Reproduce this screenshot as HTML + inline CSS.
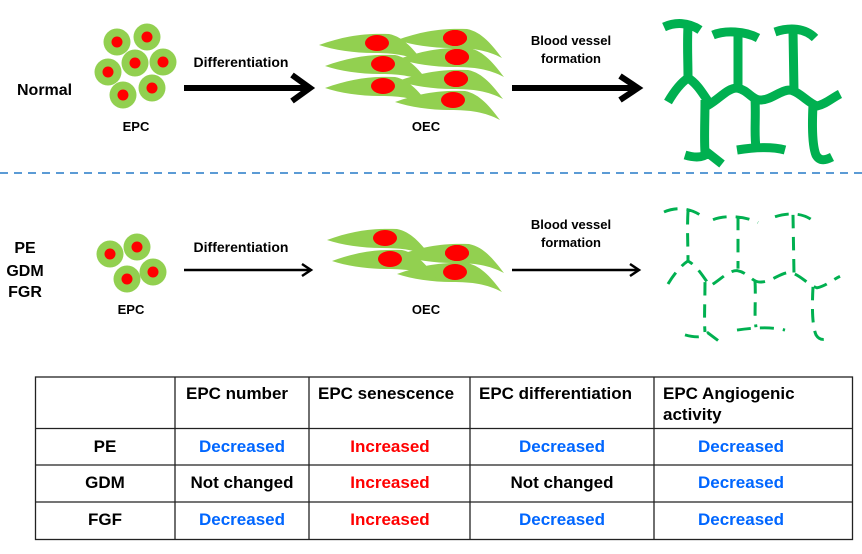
<!DOCTYPE html>
<html><head><meta charset="utf-8"><style>
body{margin:0;background:#fff}
svg{display:block}
text{font-family:"Liberation Sans",Arial,sans-serif;font-weight:bold}
</style></head><body>
<svg width="862" height="554" viewBox="0 0 862 554" xmlns="http://www.w3.org/2000/svg">
<defs>
<g id="oec"><path d="M0,0 C25,-9 45,-12 70,-11 C85,-8 95,5 105,18 C90,10 75,8 55,8 C35,8 15,5 0,0Z" fill="#92d050"/><ellipse cx="58" cy="-2" rx="12" ry="8" fill="#ff0000"/></g>
<g id="epc"><circle r="13.5" fill="#92d050"/><circle r="5.5" fill="#ff0000"/></g>
<g id="net">
<path d="M664,27 C675,22 688,22 700,30 M688,26 C687,45 688,60 688,78 M713,35 C725,30 745,31 758,38 M738,32 L738,86 M775,32 C790,27 805,28 815,38 M793,30 L794,92 M668,102 C675,90 682,82 688,78 C698,84 704,96 710,104 C720,98 728,88 737,88 C748,90 752,100 760,100 C772,100 780,90 790,90 C800,92 808,103 817,106 C826,104 832,98 840,94 M705,100 C705,120 704,140 705,152 M685,155 C695,158 703,158 708,153 L722,164 M755,98 C756,120 754,135 756,147 M737,150 C750,148 770,146 785,150 M813,105 C812,125 812,145 816,155 C820,162 826,160 832,157" fill="none" stroke="#00b050" stroke-linecap="butt"/>
</g>
</defs>
<text x="17" y="95" font-size="16">Normal</text>
<use href="#epc" x="117" y="42"/><use href="#epc" x="147" y="37"/><use href="#epc" x="108" y="72"/><use href="#epc" x="135" y="63"/><use href="#epc" x="163" y="62"/><use href="#epc" x="123" y="95"/><use href="#epc" x="152" y="88"/>
<text x="136" y="131" font-size="13" text-anchor="middle">EPC</text>
<text x="241" y="67" font-size="14" text-anchor="middle">Differentiation</text>
<path d="M184,88 H308" stroke="#000" stroke-width="6"/>
<path d="M292,75 L310,88 L292,101" fill="none" stroke="#000" stroke-width="6"/>
<use href="#oec" x="397" y="40"/><use href="#oec" x="399" y="59"/><use href="#oec" x="398" y="81"/><use href="#oec" x="395" y="102"/>
<use href="#oec" x="319" y="45"/><use href="#oec" x="325" y="66"/><use href="#oec" x="325" y="88"/>
<ellipse cx="455" cy="38" rx="12" ry="8" fill="#f00"/><ellipse cx="457" cy="57" rx="12" ry="8" fill="#f00"/><ellipse cx="456" cy="79" rx="12" ry="8" fill="#f00"/>
<text x="426" y="131" font-size="13" text-anchor="middle">OEC</text>
<text x="571" y="45" font-size="13" text-anchor="middle">Blood vessel</text>
<text x="571" y="63" font-size="13" text-anchor="middle">formation</text>
<path d="M512,88 H636" stroke="#000" stroke-width="6"/>
<path d="M620,76 L638,88 L620,100" fill="none" stroke="#000" stroke-width="6"/>
<use href="#net" stroke-width="9"/>
<path d="M0,173 H862" stroke="#5b9bd5" stroke-width="2" stroke-dasharray="8,6"/>
<text x="25" y="253" font-size="16" text-anchor="middle">PE</text>
<text x="25" y="276" font-size="16" text-anchor="middle">GDM</text>
<text x="25" y="297" font-size="16" text-anchor="middle">FGR</text>
<use href="#epc" x="110" y="254"/><use href="#epc" x="137" y="247"/><use href="#epc" x="127" y="279"/><use href="#epc" x="153" y="272"/>
<text x="131" y="314" font-size="13" text-anchor="middle">EPC</text>
<text x="241" y="252" font-size="14" text-anchor="middle">Differentiation</text>
<path d="M184,270 H310" stroke="#000" stroke-width="2.5"/>
<path d="M302,264 L311,270 L302,276" fill="none" stroke="#000" stroke-width="2.5"/>
<use href="#oec" x="399" y="255"/><use href="#oec" x="397" y="274"/>
<use href="#oec" x="327" y="240"/><use href="#oec" x="332" y="261"/>
<ellipse cx="457" cy="253" rx="12" ry="8" fill="#f00"/>
<text x="426" y="314" font-size="13" text-anchor="middle">OEC</text>
<text x="571" y="229" font-size="13" text-anchor="middle">Blood vessel</text>
<text x="571" y="247" font-size="13" text-anchor="middle">formation</text>
<path d="M512,270 H638" stroke="#000" stroke-width="2.5"/>
<path d="M630,264 L639,270 L630,276" fill="none" stroke="#000" stroke-width="2.5"/>
<g transform="translate(0,185) translate(0,27) scale(1,0.96) translate(0,-27)"><use href="#net" stroke-width="3" stroke-dasharray="14,9"/></g>
<g stroke="#222" stroke-width="1.3" fill="none">
<rect x="35.5" y="377" width="817" height="162.5"/>
<path d="M175,377V539.5 M309,377V539.5 M470,377V539.5 M654,377V539.5 M35.5,428.5H852.5 M35.5,465H852.5 M35.5,502H852.5"/>
</g>
<g font-size="17">
<text x="186" y="399">EPC number</text>
<text x="318" y="399">EPC senescence</text>
<text x="479" y="399">EPC differentiation</text>
<text x="663" y="399">EPC Angiogenic</text>
<text x="663" y="420">activity</text>
<g text-anchor="middle">
<text x="105" y="452">PE</text><text x="105" y="488">GDM</text><text x="105" y="525">FGF</text>
<text x="242" y="452" fill="#0066ff">Decreased</text><text x="242" y="488">Not changed</text><text x="242" y="525" fill="#0066ff">Decreased</text>
<text x="390" y="452" fill="#ff0000">Increased</text><text x="390" y="488" fill="#ff0000">Increased</text><text x="390" y="525" fill="#ff0000">Increased</text>
<text x="562" y="452" fill="#0066ff">Decreased</text><text x="562" y="488">Not changed</text><text x="562" y="525" fill="#0066ff">Decreased</text>
<text x="741" y="452" fill="#0066ff">Decreased</text><text x="741" y="488" fill="#0066ff">Decreased</text><text x="741" y="525" fill="#0066ff">Decreased</text>
</g></g>
</svg>
</body></html>
